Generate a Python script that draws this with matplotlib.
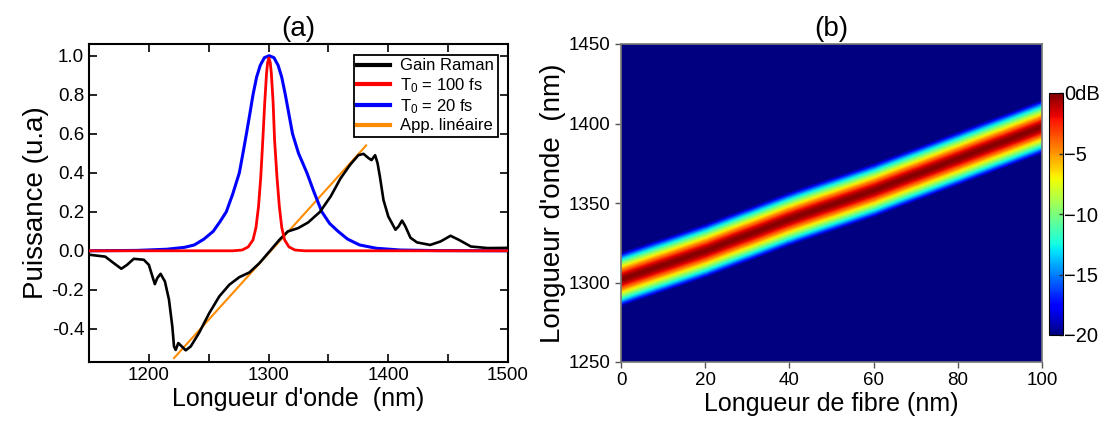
import numpy as np
import matplotlib
matplotlib.use('Agg')
import matplotlib.pyplot as plt
from matplotlib.ticker import MultipleLocator

plt.rcParams['font.family'] = ['Liberation Sans', 'DejaVu Sans']
plt.rcParams['mathtext.default'] = 'regular'
plt.rcParams['axes.unicode_minus'] = False

# (a) gain Raman
raman_x = [1150, 1163.6, 1170.6, 1177, 1181.8, 1187.4, 1195.8, 1200, 1203.4, 1205,
           1207, 1209.8, 1213.4, 1216.8, 1219.6, 1221, 1222.4, 1224.6, 1227.5, 1230.8,
           1235, 1242, 1250.4, 1258.8, 1267.2, 1275.6, 1284, 1292.4, 1300.8, 1309,
           1316, 1324.6, 1333, 1343, 1352, 1360, 1368, 1375, 1379.3, 1383.5, 1386,
           1389, 1391, 1393, 1396, 1400, 1406, 1408.6, 1411.5, 1414.3, 1418.5, 1424,
           1435, 1443.7, 1452, 1459, 1469, 1483, 1500]
raman_y = [-0.02, -0.03, -0.063, -0.092, -0.072, -0.041, -0.046, -0.072, -0.14, -0.171,
           -0.14, -0.118, -0.157, -0.25, -0.388, -0.49, -0.508, -0.473, -0.49, -0.51,
           -0.49, -0.42, -0.32, -0.234, -0.174, -0.135, -0.111, -0.063, -0.003, 0.056,
           0.099, 0.116, 0.145, 0.2, 0.28, 0.37, 0.44, 0.49, 0.497, 0.475, 0.465,
           0.49, 0.45, 0.38, 0.26, 0.176, 0.108, 0.125, 0.155, 0.125, 0.067, 0.043,
           0.03, 0.048, 0.077, 0.056, 0.022, 0.014, 0.015]

# T0 = 100 fs
t100_x = [1150, 1270, 1278, 1283, 1287, 1289.5, 1291.6, 1293.5, 1295.2, 1296.8, 1298.3,
          1299.2, 1300.3, 1301.4, 1302.3, 1303.8, 1305, 1307, 1309, 1311, 1313.4, 1317,
          1322, 1330, 1500]
t100_y = [0, 0, 0.004, 0.02, 0.056, 0.12, 0.227, 0.38, 0.569, 0.76, 0.91,
          0.965, 0.988, 0.965, 0.91, 0.76, 0.569, 0.38, 0.227, 0.12, 0.056, 0.02,
          0.004, 0, 0]

# T0 = 20 fs
t20_x = [1150, 1190, 1215, 1230, 1238, 1246, 1253.8, 1259.5, 1264.7, 1270, 1275.6,
         1278.6, 1281.5, 1284.3, 1287, 1290, 1293, 1296.5, 1300.5, 1304.5, 1308, 1311,
         1314, 1317, 1320, 1325, 1332, 1338, 1344.5, 1351, 1358, 1366, 1376, 1390,
         1410, 1440, 1500]
t20_y = [0, 0.002, 0.008, 0.018, 0.03, 0.06, 0.1, 0.15, 0.2, 0.29, 0.4,
         0.5, 0.6, 0.7, 0.8, 0.89, 0.95, 0.99, 1.0, 0.99, 0.95, 0.89,
         0.8, 0.7, 0.6, 0.5, 0.4, 0.3, 0.2, 0.14, 0.1, 0.06, 0.03, 0.013,
         0.004, 0.001, 0]

# approximation linéaire
lin_x = [1221, 1381.5]
lin_y = [-0.55, 0.54]

# (b) centre de la bande et profil transverse (dB)
fibre = np.array([0, 20, 40, 60, 80, 100])
centre = np.array([1302, 1320, 1340, 1358, 1378, 1398])
ecart = np.array([-17, -15.5, -14, -12.5, -11, -9.5, -8, -6.5, -5, -3.5, -2, 0,
                  2, 3.5, 5, 6.5, 8, 9.5, 11, 12.5, 14, 15.5, 17])
profil_db = np.array([-20, -17.3, -14.8, -12.6, -10.5, -8.6, -6.8, -5, -3.5, -1.8, -0.7, 0,
                      -0.7, -1.8, -3.5, -5, -6.8, -8.6, -10.5, -12.6, -14.8, -17.3, -20])

cb_ticks = [0, -5, -10, -15, -20]
cb_labels = ['0dB', '\u22125', '\u221210', '\u221215', '\u221220']

fig = plt.figure(figsize=(11.07, 4.26), dpi=100)

# ---- (a)
ax1 = fig.add_axes([89/1107, 64/426, 419/1107, 318/426])
ax1.plot(raman_x, raman_y, color='black', lw=1.9, label='Gain Raman', zorder=3)
ax1.plot(t100_x, t100_y, color='red', lw=2.0, label='T$_0$ = 100 fs', zorder=4)
ax1.plot(t20_x, t20_y, color='blue', lw=2.2, label='T$_0$ = 20 fs', zorder=2)
ax1.plot(lin_x, lin_y, color='darkorange', lw=1.5, label='App. linéaire', zorder=1)
ax1.set_xlim(1150, 1500)
ax1.set_ylim(-0.57, 1.06)
ax1.xaxis.set_major_locator(MultipleLocator(100))
ax1.xaxis.set_minor_locator(MultipleLocator(50))
ax1.set_yticks([1.0, 0.8, 0.6, 0.4, 0.2, 0.0, -0.2, -0.4])
ax1.tick_params(which='both', direction='in', top=True, right=True, length=6, width=1.2,
                labelsize=13.5)
for s in ax1.spines.values():
    s.set_linewidth(1.5)
ax1.set_xlabel("Longueur d'onde  (nm)", fontsize=18, labelpad=2)
ax1.set_ylabel('Puissance (u.a)', fontsize=20, labelpad=2)
ax1.set_title('(a)', fontsize=20, pad=6)
leg = ax1.legend(loc='upper right', bbox_to_anchor=(0.975, 0.965), fontsize=12,
                 frameon=True, fancybox=False, framealpha=1, edgecolor='black',
                 handlelength=2.0, labelspacing=0.15, borderpad=0.2, handletextpad=0.6,
                 borderaxespad=0)
leg.get_frame().set_linewidth(1.3)
for h in leg.get_lines():
    h.set_linewidth(3)

# ---- (b)
ax2 = fig.add_axes([621/1107, 64/426, 421/1107, 318/426])
cmap = plt.get_cmap('jet')
ax2.set_facecolor(cmap(0.0))
X = np.broadcast_to(fibre[None, :], (len(ecart), len(fibre)))
Y = centre[None, :] + ecart[:, None]
C = np.broadcast_to(profil_db[:, None], (len(ecart), len(fibre)))
mesh = ax2.pcolormesh(X, Y, C, shading='gouraud', cmap=cmap, vmin=-20, vmax=0)
ax2.set_xlim(0, 100)
ax2.set_ylim(1250, 1450)
ax2.set_xticks([0, 20, 40, 60, 80, 100])
ax2.set_yticks([1250, 1300, 1350, 1400, 1450])
ax2.tick_params(direction='out', length=4, width=1, color='#555555', labelsize=13.5)
for s in ax2.spines.values():
    s.set_color('#777777')
    s.set_linewidth(1.2)
ax2.set_xlabel('Longueur de fibre (nm)', fontsize=18, labelpad=2)
ax2.set_ylabel("Longueur d'onde  (nm)", fontsize=20, labelpad=2)
ax2.set_title('(b)', fontsize=20, pad=6)

cax = fig.add_axes([1049/1107, 91/426, 14/1107, 242/426])
cb = fig.colorbar(mesh, cax=cax, ticks=cb_ticks)
cb.ax.set_yticklabels(cb_labels)
cb.ax.tick_params(direction='in', length=3, width=1, color='#333333', labelsize=14.5, pad=1)
cb.outline.set_linewidth(0.8)

fig.savefig('out.png', dpi=100)
